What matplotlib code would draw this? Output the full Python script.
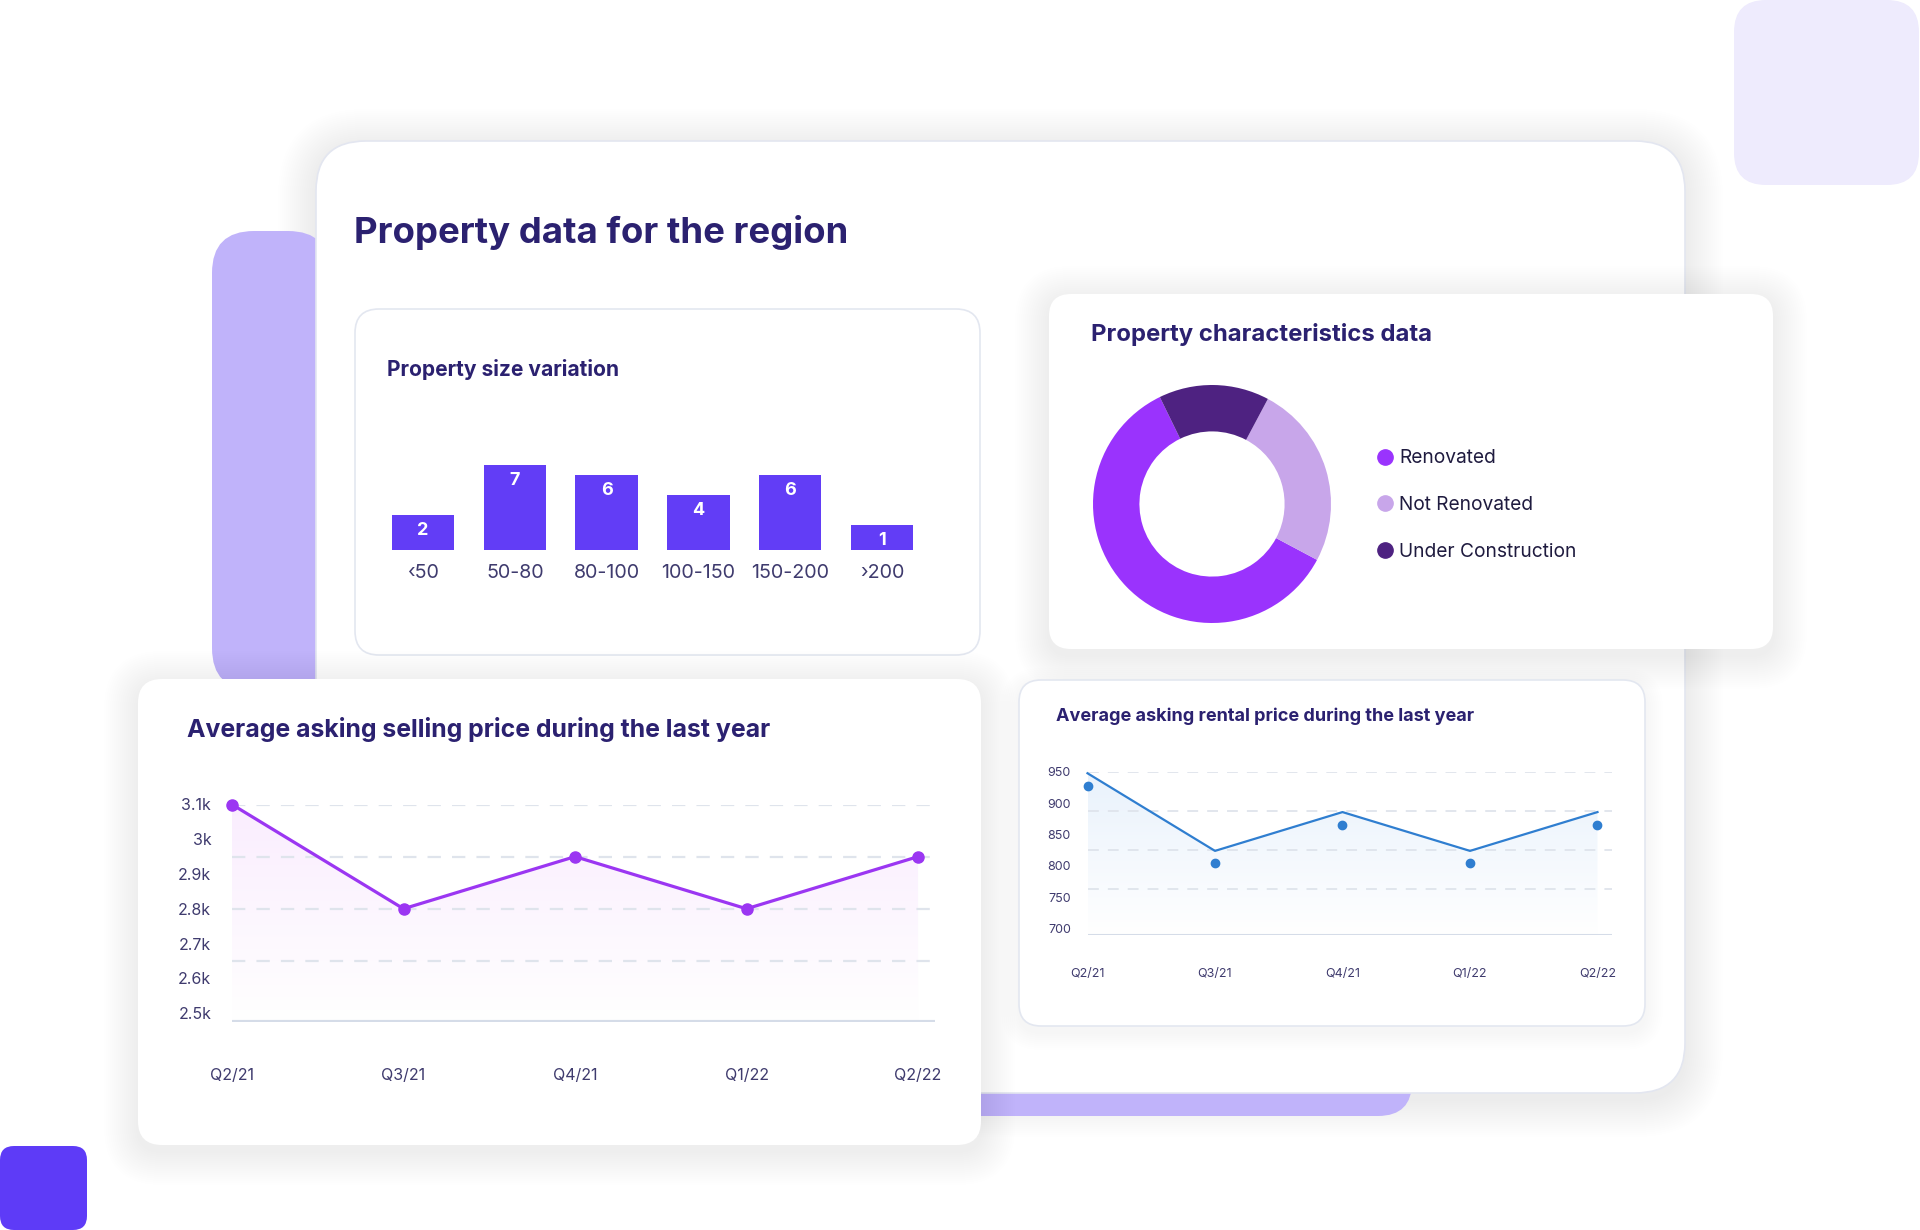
import numpy as np
import matplotlib
matplotlib.use("Agg")
import matplotlib.pyplot as plt
from matplotlib.patches import FancyBboxPatch
from matplotlib.lines import Line2D
from matplotlib.colors import LinearSegmentedColormap

plt.rcParams['font.family'] = ['Inter', 'DejaVu Sans']

# data
size_bins = ['‹50', '50-80', '80-100', '100-150', '150-200', '›200']
size_counts = [2, 7, 6, 4, 6, 1]

char_labels = ['Renovated', 'Not Renovated', 'Under Construction']
char_shares = [60, 25, 15]
char_colors = ['#9A33FD', '#C8A6EA', '#4E2281']

quarters = ['Q2/21', 'Q3/21', 'Q4/21', 'Q1/22', 'Q2/22']
sell_price = [3.1, 2.8, 2.95, 2.8, 2.95]          # thousands
sell_ticks = [2.5, 2.6, 2.7, 2.8, 2.9, 3.0, 3.1]
sell_grid = [3.1, 2.95, 2.8, 2.65]

rent_line = [948, 824, 886, 824, 886]
rent_dots = [928, 804, 866, 804, 866]
rent_ticks = [700, 750, 800, 850, 900, 950]
rent_grid = [950, 887.5, 825, 762.5]

TITLE = '#2B2170'
TICK = '#3F3B6E'
W, H = 1920, 1230

fig = plt.figure(figsize=(19.2, 12.3), dpi=100)
bg = fig.add_axes([0, 0, 1, 1])
bg.set_xlim(0, W)
bg.set_ylim(H, 0)
bg.axis('off')


def box(x0, y0, x1, y1, r, fc, ec='none', lw=0, z=1):
    p = FancyBboxPatch((x0, y0), x1 - x0, y1 - y0,
                       boxstyle=f'round,pad=0,rounding_size={r}',
                       fc=fc, ec=ec, lw=lw, zorder=z)
    bg.add_patch(p)


def shadow(x0, y0, x1, y1, r, z, spread=30, alpha=0.003, dy=6):
    for i in range(2, spread, 2):
        p = FancyBboxPatch((x0 - i, y0 - i + dy), x1 - x0 + 2 * i, y1 - y0 + 2 * i,
                           boxstyle=f'round,pad=0,rounding_size={r + i}',
                           fc='#7F78B8', ec='none', alpha=alpha, zorder=z)
        bg.add_patch(p)


def frac(x0, y0, x1, y1):
    return [x0 / W, 1 - y1 / H, (x1 - x0) / W, (y1 - y0) / H]


# main card shadow sits under the decorative shapes
shadow(316, 141, 1685, 1093, 50, z=0.5, spread=40, alpha=0.0025)

# decorative shapes
box(1734, 0, 1919, 185, 32, '#EEEBFD', z=1)
box(212, 231, 330, 690, 42, '#C0B3FA', z=1)
box(930, 1060, 1412, 1116, 34, '#C0B3FA', z=1)
box(0, 1146, 87, 1230, 14, '#5E3BF7', z=1)

# main card
box(316, 141, 1685, 1093, 50, 'white', '#E3E6F0', 1.2, z=2.1)

# inner cards
box(355, 309, 980, 655, 24, 'white', '#E3E7F0', 1.2, z=3)
shadow(1049, 294, 1773, 649, 22, z=3, spread=36, alpha=0.003)
box(1049, 294, 1773, 649, 22, 'white', z=3.1)
shadow(138, 679, 981, 1145, 24, z=4, spread=36, alpha=0.003)
box(138, 679, 981, 1145, 24, 'white', z=4.1)
shadow(1019, 680, 1645, 1026, 22, z=3, spread=20, alpha=0.002)
box(1019, 680, 1645, 1026, 22, 'white', '#E3E7F0', 1.2, z=3.1)

# titles
bg.text(354, 232, 'Property data for the region', fontsize=26.3, fontweight='bold',
        color=TITLE, va='center', zorder=10)
bg.text(387, 369, 'Property size variation', fontsize=15.1, fontweight='bold',
        color=TITLE, va='center', zorder=10)
bg.text(1091, 335, 'Property characteristics data', fontsize=17.2, fontweight='bold',
        color=TITLE, va='center', zorder=10)
bg.text(187, 730, 'Average asking selling price during the last year', fontsize=17.9,
        fontweight='bold', color=TITLE, va='center', zorder=10)
bg.text(1056, 716, 'Average asking rental price during the last year', fontsize=13,
        fontweight='bold', color=TITLE, va='center', zorder=10)

# bar chart
axb = fig.add_axes(frac(377, 450, 928, 550))
axb.set_facecolor('none')
base = -1.5
xs = np.arange(len(size_bins))
axb.bar(xs, np.array(size_counts) - base, bottom=base, width=0.68, color='#623DF6')
for x, v in zip(xs, size_counts):
    axb.annotate(str(v), (x, v), xytext=(0, -11), textcoords='offset points',
                 ha='center', va='center', color='white', fontsize=13, fontweight='bold')
axb.set_xlim(-0.5, len(size_bins) - 0.5)
axb.set_ylim(base, 8.5)
axb.set_xticks(xs)
axb.set_xticklabels(size_bins, fontsize=14.2, color=TICK)
axb.tick_params(axis='x', length=0, pad=10)
axb.set_yticks([])
for s in axb.spines.values():
    s.set_visible(False)

# donut
axd = fig.add_axes(frac(1093, 385, 1331, 623))
axd.pie(char_shares, colors=char_colors, startangle=116, counterclock=True,
        radius=1, wedgeprops=dict(width=0.39, edgecolor='none'))
axd.set_xlim(-1, 1)
axd.set_ylim(-1, 1)
handles = [Line2D([], [], marker='o', ls='', color=c, markersize=11) for c in char_colors]
fig.legend(handles, char_labels, loc='center left', bbox_to_anchor=(1358 / W, 1 - 505 / H),
           frameon=False, fontsize=13.8, labelspacing=1.5, handletextpad=0.25,
           handlelength=1.0, labelcolor='#1F1B3F')


def gradient_fill(ax, x, y, ymin, top_color):
    poly = ax.fill_between(x, y, ymin, color='none', lw=0)
    path = poly.get_paths()[0]
    grad = np.linspace(1, 0, 256).reshape(-1, 1)
    cmap = LinearSegmentedColormap.from_list('g', ['white', top_color])
    im = ax.imshow(grad, aspect='auto', cmap=cmap, origin='upper',
                   extent=[x[0], x[-1], ymin, max(y)], zorder=0.5)
    im.set_clip_path(path, transform=ax.transData)


# selling price line
axs = fig.add_axes(frac(232, 804.5, 934.5, 1021.7))
axs.set_facecolor('none')
xq = np.arange(len(quarters))
ylo = 2.475
gradient_fill(axs, xq, sell_price, ylo, '#FAEDFE')
for g in sell_grid:
    axs.axhline(g, color='#DFE4EC', lw=1.6, ls=(0, (6, 5)), zorder=1)
axs.axhline(ylo, color='#D5DCE8', lw=3, zorder=1)
axs.plot(xq, sell_price, color='#9B36F2', lw=2.3, marker='o', markersize=8,
         zorder=3, clip_on=False)
axs.set_xlim(0, 4.096)
axs.set_ylim(ylo, 3.1)
axs.set_yticks(sell_ticks)
axs.set_yticklabels([f'{v:g}k' for v in sell_ticks], fontsize=11.5, color=TICK)
axs.set_xticks(xq)
axs.set_xticklabels(quarters, fontsize=11.5, color=TICK)
axs.tick_params(axis='y', length=0, pad=15)
axs.tick_params(axis='x', length=0, pad=33)
for s in axs.spines.values():
    s.set_visible(False)

# rental price line
axr = fig.add_axes(frac(1087.5, 772, 1611.5, 934.8))
axr.set_facecolor('none')
rlo = 690
gradient_fill(axr, xq, rent_line, rlo, '#E9F2FC')
for g in rent_grid:
    axr.axhline(g, color='#DFE4EC', lw=1.3, ls=(0, (6, 5)), zorder=1)
axr.axhline(rlo, color='#D5DCE8', lw=2.2, zorder=1)
axr.plot(xq, rent_line, color='#2F7ED0', lw=1.6, zorder=3, clip_on=False)
axr.plot(xq, rent_dots, ls='', marker='o', color='#2F7ED0', markersize=6, zorder=3,
         clip_on=False)
axr.set_xlim(0, 4.11)
axr.set_ylim(rlo, 950)
axr.set_yticks(rent_ticks)
axr.set_yticklabels([str(v) for v in rent_ticks], fontsize=9, color=TICK)
axr.set_xticks(xq)
axr.set_xticklabels(quarters, fontsize=9, color=TICK)
axr.tick_params(axis='y', length=0, pad=12)
axr.tick_params(axis='x', length=0, pad=24)
for s in axr.spines.values():
    s.set_visible(False)

fig.savefig('out.png', dpi=100, facecolor='white')
